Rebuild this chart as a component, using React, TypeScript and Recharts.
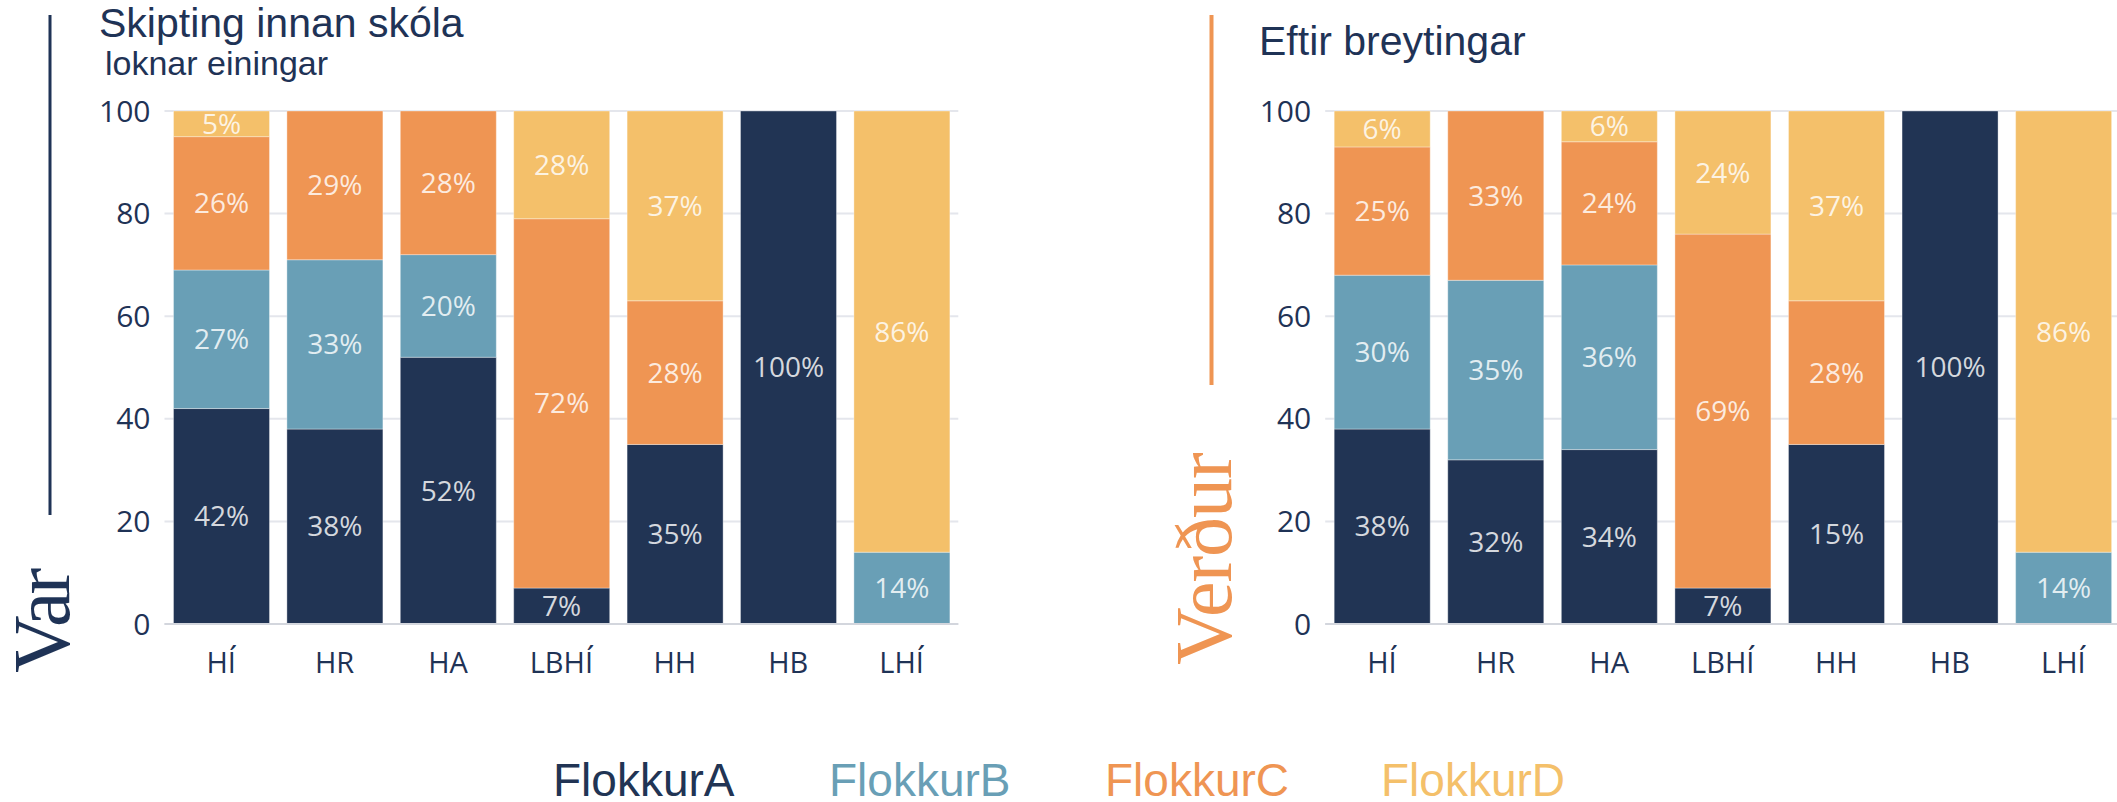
import React from "react";
import {
  BarChart,
  Bar,
  XAxis,
  YAxis,
  CartesianGrid,
  LabelList,
} from "recharts";

// schools
const categories = ["HÍ", "HR", "HA", "LBHÍ", "HH", "HB", "LHÍ"];
const seriesNames = ["FlokkurA", "FlokkurB", "FlokkurC", "FlokkurD"];

// "Var" – segment heights as drawn
const varA = [42, 38, 52, 7, 35, 100, 0];
const varB = [27, 33, 20, 0, 0, 0, 14];
const varC = [26, 29, 28, 72, 28, 0, 0];
const varD = [5, 0, 0, 21, 37, 0, 86];
// printed labels (differ from the drawn height in a few places)
const varDShown = [5, 0, 0, 28, 37, 0, 86];

// "Verður"
const verdurA = [38, 32, 34, 7, 35, 100, 0];
const verdurB = [30, 35, 36, 0, 0, 0, 14];
const verdurC = [25, 33, 24, 69, 28, 0, 0];
const verdurD = [7, 0, 6, 24, 37, 0, 86];
const verdurAShown = [38, 32, 34, 7, 15, 100, 0];
const verdurDShown = [6, 0, 6, 24, 37, 0, 86];

const yTicks = [0, 20, 40, 60, 80, 100];

const COLORS = ["#213454", "#699fb6", "#ef9553", "#f4c06a"];
const NAVY = "#1f3356";
const ORANGE = "#ef9553";

const buildRows = (a: number[], b: number[], c: number[], d: number[], aLbl: number[], dLbl: number[]) =>
  categories.map((name, i) => ({
    name,
    A: a[i],
    B: b[i],
    C: c[i],
    D: d[i],
    A_lbl: aLbl[i],
    B_lbl: b[i],
    C_lbl: c[i],
    D_lbl: dLbl[i],
  }));

const varRows = buildRows(varA, varB, varC, varD, varA, varDShown);
const verdurRows = buildRows(verdurA, verdurB, verdurC, verdurD, verdurAShown, verdurDShown);

const pct = (v: any) => (v ? `${v}%` : "");

const StackChart = ({ data, margin }: { data: any[]; margin: any }) => (
  <BarChart width={margin.w} height={700} data={data} margin={margin.m} barSize={96}>
    <CartesianGrid vertical={false} stroke="#e4e6ec" strokeWidth={2} />
    <XAxis
      dataKey="name"
      height={60}
      tickLine={false}
      tickSize={0}
      tickMargin={28}
      axisLine={{ stroke: "#d3d6dd", strokeWidth: 2 }}
      tick={{ fill: NAVY, fontSize: 29, fontFamily: "'Open Sans', sans-serif" }}
      interval={0}
    />
    <YAxis
      width={80}
      domain={[0, 100]}
      ticks={yTicks}
      tickLine={false}
      axisLine={false}
      tickSize={0}
      tickMargin={14}
      tick={{ fill: NAVY, fontSize: 30, fontFamily: "'Open Sans', sans-serif" }}
    />
    {["A", "B", "C", "D"].map((k, i) => (
      <Bar
        key={k}
        dataKey={k}
        stackId="s"
        fill={COLORS[i]}
        stroke="rgba(255,255,255,0.35)"
        strokeWidth={1}
        isAnimationActive={false}
      >
        <LabelList
          dataKey={`${k}_lbl`}
          position="center"
          formatter={pct}
          fill="#ffffff"
          fillOpacity={0.82}
          fontSize={28}
          fontFamily="'Open Sans', sans-serif"
        />
      </Bar>
    ))}
  </BarChart>
);

export default function App() {
  return (
    <div
      style={{
        position: "fixed",
        left: 0,
        top: 0,
        width: 2117,
        height: 802,
        overflow: "hidden",
        background: "#fff",
      }}
    >
      <div style={{ position: "absolute", left: 0, top: 0 }}>
        <StackChart
          data={varRows}
          margin={{ w: 980, m: { top: 111, right: 21.7, bottom: 16, left: 84.5 } }}
        />
      </div>
      <div style={{ position: "absolute", left: 1100, top: 0 }}>
        <StackChart
          data={verdurRows}
          margin={{ w: 1021, m: { top: 111, right: 0.8, bottom: 16, left: 145.2 } }}
        />
      </div>

      <svg
        width={2117}
        height={802}
        style={{ position: "absolute", left: 0, top: 0, pointerEvents: "none" }}
      >
        {/* left panel decoration */}
        <line x1={50} y1={15} x2={50} y2={515} stroke={NAVY} strokeWidth={3} />
        <text x={99} y={37} fontSize={41} fontFamily="'Liberation Sans', Arial, sans-serif" fill={NAVY}>
          Skipting innan skóla
        </text>
        <text x={105} y={75} fontSize={34} fontFamily="'Liberation Sans', Arial, sans-serif" fill={NAVY}>
          loknar einingar
        </text>
        <text
          transform="translate(69,673) rotate(-90)"
          fontSize={80}
          letterSpacing={-3}
          fontFamily="'Liberation Serif', 'Times New Roman', serif"
          fill={NAVY}
        >
          Var
        </text>

        {/* right panel decoration */}
        <line x1={1211.5} y1={15} x2={1211.5} y2={385} stroke={ORANGE} strokeWidth={4} />
        <text x={1259} y={55} fontSize={41} fontFamily="'Liberation Sans', Arial, sans-serif" fill={NAVY}>
          Eftir breytingar
        </text>
        <text
          transform="translate(1231,665) rotate(-90)"
          fontSize={80}
          letterSpacing={-1}
          fontFamily="'Liberation Serif', 'Times New Roman', serif"
          fill={ORANGE}
        >
          Verður
        </text>

        {/* legend */}
        {seriesNames.map((s, i) => (
          <text
            key={s}
            x={553 + i * 276}
            y={796}
            fontSize={46}
            fontFamily="'Liberation Sans', Arial, sans-serif"
            fill={COLORS[i]}
          >
            {s}
          </text>
        ))}
      </svg>
    </div>
  );
}
